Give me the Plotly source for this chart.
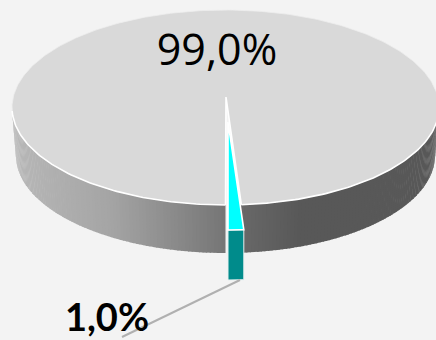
import numpy as np
import plotly.graph_objects as go

# Data
labels = ["99,0%", "1,0%"]
values = [99.0, 1.0]

# Styles and geometry
BG = "#f3f3f3"
TOP_COLORS = ["#d9d9d9", "#00ffff"]
SIDE_COLOR_SMALL = "#008b8b"
CX, CY, RX, RY = 225.5, 107.5, 213.5, 97.5
APEX_Y = 97.0
DEPTH = 48.0
RX_BOTTOM = 209.5
EXPLODE_X, EXPLODE_Y = 2.5, 25.0
SWEEP_STRETCH = 1.18  # front slices look wider in the tilted view


def pt(a_deg, rx=RX, dy=0.0, dx=0.0):
    a = np.radians(a_deg)
    return CX + dx + rx * np.sin(a), CY + dy - RY * np.cos(a)


def side_colour(x):
    stops_x = [12, 110, 225, 243, 300, 440]
    stops_v = [184, 165, 118, 104, 88, 88]
    v = int(np.interp(x, stops_x, stops_v))
    return f"rgb({v},{v},{v})"


fig = go.Figure()


def poly(xs, ys, fill, line=None, width=0):
    fig.add_trace(go.Scatter(
        x=list(xs), y=list(ys), mode="lines", fill="toself", fillcolor=fill,
        line=dict(color=line or fill, width=width), hoverinfo="skip",
        showlegend=False))


def stroke(xs, ys, colour, width):
    fig.add_trace(go.Scatter(x=list(xs), y=list(ys), mode="lines",
                             line=dict(color=colour, width=width),
                             hoverinfo="skip", showlegend=False))


total = sum(values)
small_sweep = 360.0 * values[1] / total * SWEEP_STRETCH
small_start = 180.0 - small_sweep      # the small slice ends at six o'clock
big_start = 180.0
big_end = small_start + 360.0

# Side wall of the large slice, as narrow shaded bands
band = 1.0
for a0 in np.arange(90.0, 270.0, band):
    a1 = a0 + band
    if a0 >= small_start and a1 <= 180.0:
        continue
    aa = np.linspace(a0, min(a1 + 0.3, 270.0), 4)
    if a1 <= small_start:
        aa = np.clip(aa, 90.0, small_start)
    tx, ty = pt(aa)
    bx, by = pt(aa[::-1], rx=RX_BOTTOM, dy=DEPTH)
    poly(np.r_[tx, bx], np.r_[ty, by], side_colour(float(np.mean(tx))))

# Top of the large slice
aa = np.linspace(big_start, big_end, 361)
tx, ty = pt(aa)
poly(np.r_[CX + 0.5, tx, CX + 0.5], np.r_[APEX_Y, ty, APEX_Y], TOP_COLORS[0])
back = (aa >= 265) & (aa <= 455)
stroke(tx[back], ty[back], "#eeeeee", 0.8)
front_l = aa <= 268
front_r = aa >= 452
stroke(tx[front_l], ty[front_l], "#ffffff", 1.6)
stroke(tx[front_r], ty[front_r], "#ffffff", 1.6)
stroke([tx[0], CX + 0.5, tx[-1]], [ty[0], APEX_Y, ty[-1]], "#ffffff", 1.6)

# Exploded small slice: wall, then top
aa = np.linspace(small_start, 180.0, 8)
sx, sy = pt(aa, dx=EXPLODE_X, dy=EXPLODE_Y)
bx, by = pt(aa[::-1], dx=EXPLODE_X, dy=EXPLODE_Y + 50.0)
poly(np.r_[sx, bx, sx[0]], np.r_[sy, by, sy[0]], SIDE_COLOR_SMALL, "#e6f0f0", 1)
poly(np.r_[CX + EXPLODE_X, sx, CX + EXPLODE_X],
     np.r_[APEX_Y + EXPLODE_Y, sy, APEX_Y + EXPLODE_Y],
     TOP_COLORS[1], "#ffffff", 1.6)

# Leader line
stroke([240, 122], [280, 337], "#b0b0b0", 2)

# Labels
fig.add_trace(go.Scatter(x=[217], y=[54], mode="text", text=[labels[0]],
                         textposition="middle center", hoverinfo="skip",
                         textfont=dict(family="Open Sans", size=43, color="#000000")))
fig.add_trace(go.Scatter(x=[107], y=[321], mode="text", text=["<b>" + labels[1] + "</b>"],
                         textposition="middle center", hoverinfo="skip",
                         textfont=dict(family="Lato", size=38, color="#000000")))

fig.update_layout(
    width=436, height=340, margin=dict(l=0, r=0, t=0, b=0),
    paper_bgcolor=BG, plot_bgcolor=BG, showlegend=False,
    xaxis=dict(range=[0, 436], visible=False, fixedrange=True),
    yaxis=dict(range=[340, 0], visible=False, fixedrange=True),
)
fig.write_html(
    "out.html",
    config={"displayModeBar": False},
    post_script="document.body.style.margin='0';document.body.style.overflow='hidden';",
)
